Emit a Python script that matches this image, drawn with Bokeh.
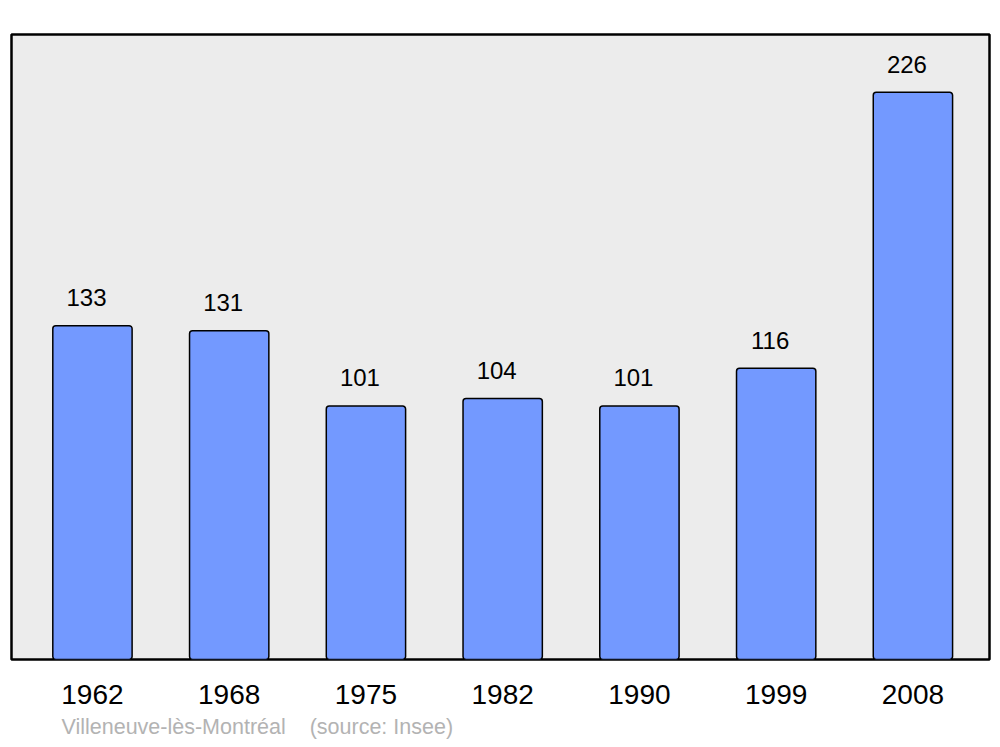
from bokeh.plotting import figure
from bokeh.models import Range1d, FixedTicker, Title, ColumnDataSource
from bokeh.core.properties import value
from bokeh.embed import file_html
from bokeh.resources import INLINE

years = ["1962", "1968", "1975", "1982", "1990", "1999", "2008"]
population = [133, 131, 101, 104, 101, 116, 226]
commune = "Villeneuve-lès-Montréal"
source_note = "(source: Insee)"

idx = list(range(len(years)))
src = ColumnDataSource(dict(x=idx, top=population, lab=[str(v) for v in population]))

FONT = "Liberation Sans"

p = figure(width=992, height=745, output_backend="svg", toolbar_location=None,
           x_range=Range1d(-0.592, 6.56), y_range=Range1d(0, 249),
           min_border_left=11, min_border_right=3, min_border_top=34, min_border_bottom=85)
p.background_fill_color = "#ececec"
p.border_fill_color = "white"
p.outline_line_color = "black"
p.outline_line_width = 2.5
p.outline_line_alpha = 1.0
p.grid.visible = False
p.yaxis.visible = False

p.vbar(x="x", top="top", bottom=0, width=0.58, source=src, fill_color="#7399ff",
       line_color="black", line_width=1.5, border_radius=3)

p.text(x="x", y="top", text="lab", source=src, text_font=value(FONT),
       text_font_size="24px", text_align="center", text_baseline="middle",
       x_offset=-6, y_offset=-28, text_color="black")

ax = p.xaxis[0]
ax.ticker = FixedTicker(ticks=idx)
ax.major_label_overrides = {i: y for i, y in zip(idx, years)}
ax.major_tick_line_color = None
ax.minor_tick_line_color = None
ax.axis_line_color = None
ax.major_tick_out = 0
ax.major_label_standoff = 25
ax.major_label_text_font = FONT
ax.major_label_text_font_size = "28px"
ax.major_label_text_color = "black"

note = Title(text=commune + "\u00a0\u00a0\u00a0\u00a0" + source_note, align="left",
             offset=50, standoff=13, text_font=FONT, text_font_size="21.5px",
             text_font_style="normal", text_color="#b3b3b3")
p.add_layout(note, "below")

open("out.html", "w").write(file_html(p, INLINE))
